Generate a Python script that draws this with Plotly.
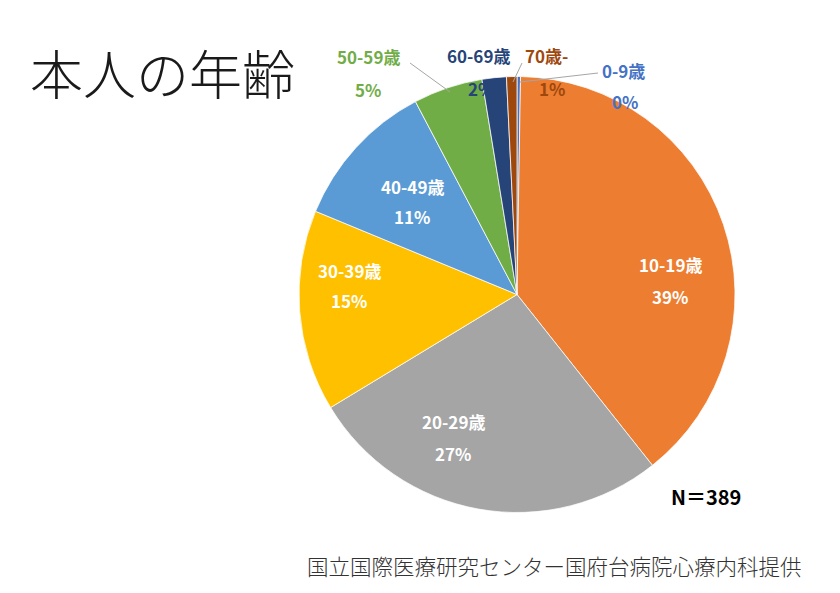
import plotly.graph_objects as go

labels = ["0-9歳", "10-19歳", "20-29歳", "30-39歳", "40-49歳", "50-59歳", "60-69歳", "70歳-"]
counts = [1, 152, 105, 58, 43, 20, 7, 3]
colors = ["#4472C4", "#ED7D31", "#A5A5A5", "#FFC000", "#5B9BD5", "#70AD47", "#264478", "#9E480E"]
inside = [False, True, True, True, True, False, False, False]
title_text = "本人の年齢"
n_text = "N＝389"
source_text = "国立国際医療研究センター国府台病院心療内科提供"

total = sum(counts)
pcts = [f"{round(c / total * 100)}%" for c in counts]

W, H = 840, 593
JP = "Noto Sans CJK JP"

fig = go.Figure()
fig.add_trace(go.Pie(
    labels=labels,
    values=counts,
    sort=False,
    direction="clockwise",
    rotation=0,
    marker=dict(colors=colors, line=dict(color="white", width=0.75)),
    textinfo="none",
    hoverinfo="label+percent",
    showlegend=False,
    domain=dict(x=[299 / W, 735 / W], y=[(H - 513) / H, (H - 76) / H]),
))

ann = []
# label positions in pixels: (label x, label y, percent x, percent y)
label_pos = {
    0: (623, 70, 625, 101),
    1: (670, 265, 670, 296),
    2: (453, 422, 453, 453),
    3: (349, 270, 349, 300),
    4: (412, 186, 412, 216),
    5: (368, 57, 368, 89),
    6: (478, 55, 481, 88),
    7: (546, 55, 552, 88),
}
for i, (lx, ly, px, py) in label_pos.items():
    col = "white" if inside[i] else colors[i]
    for txt, x, y in ((labels[i], lx, ly), (pcts[i], px, py)):
        ann.append(dict(x=x / W, y=1 - y / H, xref="paper", yref="paper", text=txt, showarrow=False,
                        font=dict(family=JP, size=17, color=col, weight="bold"),
                        xanchor="center", yanchor="middle"))

# leader lines
leaders = [(410, 63, 450, 92), (522, 63, 513, 82), (598, 73, 520, 82)]
shapes = [dict(type="line", xref="paper", yref="paper", x0=a / W, y0=1 - b / H, x1=c / W, y1=1 - d / H,
               line=dict(color="#A6A6A6", width=1)) for a, b, c, d in leaders]

ann.append(dict(x=28 / W, y=1 - 72 / H, xref="paper", yref="paper", text=title_text, showarrow=False,
                font=dict(family=JP, size=53, color="#1a1a1a", weight=300), xanchor="left", yanchor="middle"))
ann.append(dict(x=706 / W, y=1 - 496 / H, xref="paper", yref="paper", text=n_text, showarrow=False,
                font=dict(family=JP, size=20, color="black", weight="bold"), xanchor="center", yanchor="middle"))
ann.append(dict(x=804 / W, y=1 - 565 / H, xref="paper", yref="paper", text=source_text, showarrow=False,
                font=dict(family=JP, size=21.5, color="#333333", weight=300), xanchor="right", yanchor="middle"))

fig.update_layout(
    width=W, height=H,
    margin=dict(l=0, r=0, t=0, b=0),
    paper_bgcolor="white", plot_bgcolor="white",
    annotations=ann, shapes=shapes,
)
fig.write_html("out.html", config={"displayModeBar": False},
               post_script="document.body.style.margin='0';")
